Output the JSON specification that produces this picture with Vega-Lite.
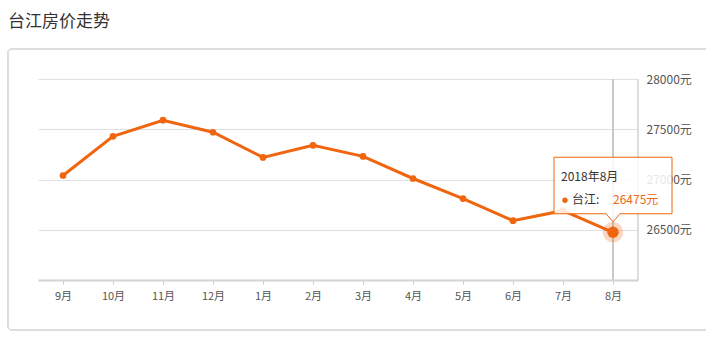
{
  "$schema": "https://vega.github.io/schema/vega-lite/v6.json",
  "width": 600,
  "height": 201,
  "autosize": "none",
  "padding": {"left": 38, "top": 79, "right": 68, "bottom": 58},
  "background": "white",
  "config": {
    "font": "Noto Sans CJK SC",
    "view": {"stroke": null}
  },
  "title": {
    "text": "台江房价走势",
    "anchor": "start",
    "frame": "group",
    "fontSize": 17,
    "fontWeight": "normal",
    "color": "#333333",
    "dx": -30,
    "offset": 18
  },
  "datasets": {
    "prices": [
      {"month": "9月", "price": 27040},
      {"month": "10月", "price": 27430},
      {"month": "11月", "price": 27590},
      {"month": "12月", "price": 27470},
      {"month": "1月", "price": 27220},
      {"month": "2月", "price": 27340},
      {"month": "3月", "price": 27230},
      {"month": "4月", "price": 27010},
      {"month": "5月", "price": 26810},
      {"month": "6月", "price": 26590},
      {"month": "7月", "price": 26690},
      {"month": "8月", "price": 26475}
    ],
    "tip": [
      {"month": "8月", "price": 26475, "date": "2018年8月", "name": "台江:", "label": "26475元"}
    ]
  },
  "data": {"name": "prices"},
  "encoding": {
    "x": {
      "field": "month",
      "type": "ordinal",
      "sort": null,
      "scale": {"type": "point", "padding": 0.5, "domain": ["9月", "10月", "11月", "12月", "1月", "2月", "3月", "4月", "5月", "6月", "7月", "8月"]},
      "axis": {
        "title": null,
        "labelAngle": 0,
        "labelColor": "#555555",
        "labelFontSize": 11,
        "labelPadding": 6,
        "tickSize": 4,
        "tickColor": "#cccccc",
        "domainColor": "#d4d4d4",
        "domainWidth": 2,
        "grid": false
      }
    },
    "y": {
      "field": "price",
      "type": "quantitative",
      "scale": {"domain": [26000, 28000], "nice": false, "zero": false},
      "axis": {
        "title": null,
        "orient": "right",
        "values": [26500, 27000, 27500, 28000],
        "labelExpr": "datum.value + '元'",
        "labelColor": "#555555",
        "labelFontSize": 12,
        "labelPadding": 8,
        "ticks": false,
        "domain": false,
        "grid": true,
        "gridColor": "#e0e0e0"
      }
    }
  },
  "layer": [
    {
      "mark": {"type": "rect", "fill": null, "stroke": "#dddddd", "strokeWidth": 1, "cornerRadius": 4,
               "xOffset": -55, "x2Offset": 120, "yOffset": -30, "y2Offset": 50},
      "encoding": {
        "x": {"datum": "9月"},
        "x2": {"datum": "8月"},
        "y": {"datum": 28000},
        "y2": {"datum": 26000}
      }
    },
    {
      "mark": {"type": "rule", "stroke": "#dddddd", "strokeWidth": 1, "xOffset": 25},
      "encoding": {
        "x": {"datum": "8月"},
        "y": {"datum": 28000},
        "y2": {"datum": 26000}
      }
    },
    {
      "mark": {"type": "rule", "stroke": "#c8c8c8", "strokeWidth": 1},
      "encoding": {
        "x": {"datum": "8月"},
        "y": {"datum": 28000},
        "y2": {"datum": 26000}
      }
    },
    {
      "mark": {"type": "line", "color": "#f0650f", "strokeWidth": 3}
    },
    {
      "mark": {"type": "point", "filled": true, "color": "#f0650f", "size": 45, "opacity": 1}
    },
    {
      "data": {"name": "tip"},
      "mark": {"type": "point", "filled": true, "color": "#f0650f", "size": 420, "opacity": 0.25}
    },
    {
      "data": {"name": "tip"},
      "mark": {"type": "point", "filled": true, "color": "#f0650f", "size": 130, "opacity": 1}
    },
    {
      "data": {"name": "tip"},
      "mark": {
        "type": "point",
        "shape": "M-1,-1.2712H1V-0.3136H0.1186L0,-0.178L-0.1186,-0.3136H-1Z",
        "size": 13924,
        "filled": false,
        "fill": "white",
        "fillOpacity": 0.85,
        "stroke": "#f0650f",
        "strokeWidth": 1,
        "opacity": 1
      }
    },
    {
      "data": {"name": "tip"},
      "mark": {"type": "text", "align": "left", "baseline": "alphabetic", "dx": -52, "dy": -51, "fontSize": 12, "color": "#333333"},
      "encoding": {"text": {"field": "date"}}
    },
    {
      "data": {"name": "tip"},
      "mark": {"type": "point", "filled": true, "color": "#f0650f", "size": 28, "opacity": 1, "xOffset": -48, "yOffset": -32}
    },
    {
      "data": {"name": "tip"},
      "mark": {"type": "text", "align": "left", "baseline": "alphabetic", "dx": -41, "dy": -28, "fontSize": 12, "color": "#333333"},
      "encoding": {"text": {"field": "name"}}
    },
    {
      "data": {"name": "tip"},
      "mark": {"type": "text", "align": "left", "baseline": "alphabetic", "dx": 0, "dy": -28, "fontSize": 12, "color": "#f0650f"},
      "encoding": {"text": {"field": "label"}}
    }
  ]
}
